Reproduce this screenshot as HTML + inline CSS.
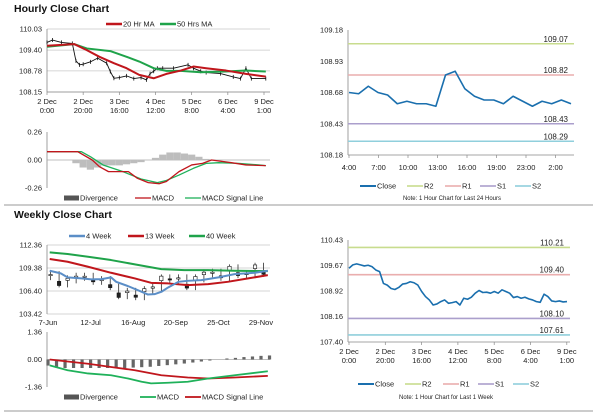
<!DOCTYPE html>
<html><head><meta charset="utf-8">
<style>
body{margin:0;background:#fff;}
svg{display:block;font-family:"Liberation Sans",sans-serif;}
.t{font-size:7.5px;fill:#222;}
.ttl{font-size:10.5px;font-weight:bold;fill:#111;}
</style></head>
<body>
<svg id="c" width="600" height="413" viewBox="0 0 600 413"></svg>
<script>
// ---------- DATA ----------
const hPriceHours=[0,3,8,14,16,18,20,24,28,33,35,37,40,44,48,52,55,57,59,61,64,70,78,81,85,88,96,103,107,110,113,121];
const hPriceVals=[109.63,109.70,109.63,109.60,109.08,108.96,108.98,109.05,109.16,109.01,108.76,108.56,108.58,108.63,108.55,108.58,108.51,108.70,108.77,108.86,108.86,108.86,108.96,108.86,108.77,108.73,108.70,108.60,108.55,108.86,108.55,108.55];
const hMa20Hours=[0,15,22,29,37,44,51,59,66,74,81,88,99,110,121];
const hMa20=[109.53,109.58,109.40,109.20,109.01,108.86,108.66,108.56,108.69,108.79,108.91,108.86,108.79,108.69,108.61];
const hMa50Hours=[0,15,22,35,44,51,59,66,74,85,99,110,121];
const hMa50=[109.50,109.58,109.45,109.37,109.20,109.06,108.86,108.78,108.78,108.74,108.76,108.79,108.76];
const hTicks=[110.03,109.40,108.78,108.15];
const hXLabels=[["2 Dec","0:00"],["2 Dec","20:00"],["3 Dec","16:00"],["4 Dec","12:00"],["5 Dec","8:00"],["6 Dec","4:00"],["9 Dec","1:00"]];
const hMacdHours=[0,17,25,29,34,45,50,56,62,66,73,80,86,91,102,110,121];
const hMacd=[0.077,0.077,0,-0.062,-0.108,-0.108,-0.17,-0.21,-0.22,-0.20,-0.108,-0.046,-0.031,0,-0.025,-0.046,-0.052];
const hSigHours=[0,19,24,31,42,52,61,66,73,81,88,95,106,117,121];
const hSig=[0.077,0.077,0.031,-0.046,-0.108,-0.176,-0.21,-0.19,-0.14,-0.077,-0.031,-0.025,-0.031,-0.046,-0.052];
const hDivHours=[0,4,8,12,16,20,24,28,32,36,40,44,48,52,56,60,64,68,72,76,80,84,88,92,96,100,104,108,112,116,120];
const hDiv=[0,0,0,0,-0.03,-0.07,-0.09,-0.07,-0.05,-0.05,-0.05,-0.04,-0.03,-0.02,0,0.02,0.05,0.07,0.07,0.06,0.05,0.03,0.01,0,0,0,0,0,0,0,0];
const hMacdTicks=[0.26,0.00,-0.26];

const dClose=[108.68,108.67,108.73,108.68,108.66,108.59,108.61,108.59,108.59,108.57,108.82,108.85,108.71,108.65,108.62,108.62,108.59,108.65,108.61,108.57,108.61,108.59,108.62,108.59];
const dXLabels=["4:00","7:00","10:00","13:00","16:00","19:00","23:00","2:00"];
const dTicks=[109.18,108.93,108.68,108.43,108.18];
const dLevels=[109.07,108.82,108.43,108.29];

const wkClose=[109.59,109.69,109.72,109.69,109.66,109.68,109.64,109.54,109.49,109.14,109.09,108.99,108.96,109.02,109.12,109.14,109.19,109.16,109.09,108.90,108.75,108.65,108.50,108.53,108.60,108.65,108.55,108.57,108.60,108.50,108.70,108.67,108.73,108.85,108.93,108.87,108.88,108.85,108.90,108.85,108.95,108.90,108.85,108.72,108.75,108.70,108.73,108.68,108.65,108.60,108.58,108.82,108.75,108.62,108.60,108.62,108.59,108.60];
const wkTicks=[110.43,109.67,108.92,108.16,107.40];
const wkLevels=[110.21,109.40,108.10,107.61];

const wCandles=[108.33,108.46,107.38,107.90,108.24,108.24,107.72,107.81,107.03,105.86,106.29,105.73,106.51,106.85,108.03,107.90,108.03,107.03,108.03,108.68,108.76,108.24,109.33,108.59,108.59,109.54,108.76];
const w4Weeks=[0.2,1.5,2.3,3.9,5.1,6.3,7.4,8,9.4,11,11.7,12.5,13.3,14.1,15.3,16.4,18,20,21.9,24.3,25.8];
const w4=[109.02,108.68,108.16,108.03,107.90,107.94,108.16,107.59,107.03,106.29,105.95,105.99,106.29,106.86,107.59,107.72,107.81,108.16,108.59,108.76,109.02];
const w13Weeks=[0.2,2.3,4.7,7.4,10.2,12.1,14.1,16.4,18.8,21.1,23.5,25.8];
const w13=[110.54,110.19,109.54,108.76,108.03,107.46,107.38,107.16,107.29,107.59,108.03,108.46];
const w40Weeks=[0.2,2.3,4.7,7.4,10.2,13.3,16,18.8,21.9,25.8];
const w40=[111.41,111.19,110.84,110.41,109.85,109.24,109.11,109.11,109.02,108.98];
const wTicks=[112.36,109.38,106.40,103.42];
const wXLabels=["7-Jun","12-Jul","16-Aug","20-Sep","25-Oct","29-Nov"];
const wMacdWeeks=[0.2,2.3,4.7,7.4,9.4,11,12.1,14.1,16.4,18.8,21.9,25.8];
const wMacd=[-0.29,-0.53,-0.69,-0.78,-0.94,-1.10,-1.18,-1.15,-1.10,-0.94,-0.78,-0.58];
const wSigWeeks=[0.2,2.3,4.7,7.4,10.2,13.3,16.4,18.8,21.9,25.8];
const wSig=[0,-0.10,-0.21,-0.37,-0.53,-0.78,-0.89,-0.94,-0.89,-0.81];
const wDiv=[-0.3,-0.4,-0.42,-0.42,-0.42,-0.42,-0.42,-0.42,-0.42,-0.42,-0.4,-0.38,-0.36,-0.32,-0.28,-0.24,-0.2,-0.15,-0.1,-0.05,0.0,0.05,0.08,0.12,0.15,0.18,0.2];
const wMacdTicks=[1.36,0.00,-1.36];

// ---------- HELPERS ----------
const S=document.getElementById('c');
const NS='http://www.w3.org/2000/svg';
function mk(tag,attrs,parent){const e=document.createElementNS(NS,tag);for(const k in attrs)e.setAttribute(k,attrs[k]);(parent||S).appendChild(e);return e;}
function txt(x,y,s,anchor,cls){const e=mk('text',{x:x,y:y,'text-anchor':anchor||'start',class:cls||'t'});e.textContent=s;return e;}
function lin(a,b,c,d){return v=>c+(v-a)*(d-c)/(b-a);}
function poly(xs,ys,fx,fy,color,w,name){
  const p=mk('polyline',{points:xs.map((x,i)=>fx(x)+','+fy(ys[i])).join(' '),fill:'none',stroke:color,'stroke-width':w,'stroke-linejoin':'round'});
  
  
  return p;
}
function legLine(x,y,color,label,w){
  const l=mk('line',{x1:x,y1:y,x2:x+16,y2:y,stroke:color,'stroke-width':w||2.5});
  
  
  const t=txt(x+17,y+2.5,label);
  
  
}
function legBox(x,y,label){
  const r=mk('rect',{x:x,y:y-2.5,width:15,height:5,fill:'#555'});
  
  
  const t=txt(x+16,y+2.5,label);
  
  
}
function yAxis(x0,x1,ticks,fy,grid,name){
  ticks.forEach(v=>{
    if(grid){const g=mk('line',{x1:x0,x2:x1,y1:fy(v),y2:fy(v),stroke:'#c8c8c8','stroke-width':0.7});
      }
    const t=txt(x0-5,fy(v)+2.5,v.toFixed(2),'end');
    
    
  });
  const a=mk('line',{x1:x0,x2:x0,y1:fy(ticks[0]),y2:fy(ticks[ticks.length-1]),stroke:'#888','stroke-width':0.8});
  
}

// separators
[205,411].forEach(y=>{const l=mk('line',{x1:4,x2:593,y1:y,y2:y,stroke:'#999','stroke-width':1});
  });

// ---------- HOURLY CLOSE (top-left) ----------
(function(){
  const t=txt(14,12,'Hourly Close Chart','start','ttl');
  
  const fx=lin(0,120,47,264), fy=lin(110.03,108.15,29,92);
  yAxis(47,270,hTicks,fy,true,'hourly-price');
  const bl=mk('line',{x1:47,x2:270,y1:92,y2:92,stroke:'#888','stroke-width':0.8});
  
  hXLabels.forEach((l,i)=>{const x=fx(i*20);
    mk('line',{x1:x,x2:x,y1:92,y2:95,stroke:'#888','stroke-width':0.7});
    const a=txt(x,104,l[0],'middle');
    const b=txt(x,113,l[1],'middle');});
  poly(hPriceHours,hPriceVals,fx,fy,'#111',0.9,'hourly-price-candles');
  hPriceHours.forEach((h,i)=>{const c=mk('line',{x1:fx(h),x2:fx(h),y1:fy(hPriceVals[i])-2,y2:fy(hPriceVals[i])+2,stroke:'#111','stroke-width':0.8});
    });
  poly(hMa50Hours,hMa50,fx,fy,'#1fa34a',2,'hourly-50hr-ma-line');
  poly(hMa20Hours,hMa20,fx,fy,'#c0161c',2,'hourly-20hr-ma-line');
  legLine(106,24,'#c0161c','20 Hr MA');
  legLine(160,24,'#1fa34a','50 Hrs MA');

  // MACD
  const my=lin(0.26,-0.26,132,188);
  yAxis(47,270,hMacdTicks,my,false,'hourly-macd');
  const z=mk('line',{x1:47,x2:270,y1:my(0),y2:my(0),stroke:'#aaa','stroke-width':0.7});
  
  hDivHours.forEach((h,i)=>{const v=hDiv[i];if(!v)return;
    const r=mk('rect',{x:fx(h)-3.6,y:Math.min(my(0),my(v)),width:7.2,height:Math.abs(my(v)-my(0)),fill:'#bdbdbd'});
    });
  poly(hSigHours,hSig,fx,my,'#1fb15a',1.3,'hourly-macd-signal-line');
  poly(hMacdHours,hMacd,fx,my,'#c0161c',1.3,'hourly-macd-line');
  legBox(64,198,'Divergence');
  legLine(135,198,'#c0161c','MACD',1.3);
  legLine(185,198,'#1fb15a','MACD Signal Line',1.3);
})();

// ---------- DAILY 24H (top-right) ----------
function levelChart(x0,x1,yTop,yBot,ticks,levels,closeVals,nameP){
  const fy=lin(ticks[0],ticks[ticks.length-1],yTop,yBot);
  const fx=lin(0,closeVals.length-1,x0+1,x1-3);
  yAxis(x0,x1,ticks,fy,false,nameP);
  const b=mk('line',{x1:x0,x2:x1,y1:yBot,y2:yBot,stroke:'#888','stroke-width':0.8});
  
  const cols=['#c8dc8e','#eaaeae','#ab9fcc','#90cfdc'], nm=['r2','r1','s1','s2'];
  levels.forEach((v,i)=>{const l=mk('line',{x1:x0,x2:x1,y1:fy(v),y2:fy(v),stroke:cols[i],'stroke-width':1.6});
    
    const t=txt(x1-6,fy(v)-2,v.toFixed(2),'end');t.style.fontSize='8px';
    });
  poly(closeVals.map((_,i)=>i),closeVals,fx,fy,'#1a6fae',1.6,nameP+'-close-line');
  return {fx,fy};
}
(function(){
  levelChart(348,574,30,155,dTicks,dLevels,dClose,'daily');
  dXLabels.forEach((l,i)=>{const x=349+i*29.5;
    mk('line',{x1:x,x2:x,y1:155,y2:158,stroke:'#888','stroke-width':0.7});
    const t=txt(x,170,l,'middle');});
  legLine(360,186,'#1a6fae','Close',2);legLine(407,186,'#c8dc8e','R2',1.6);legLine(445,186,'#eaaeae','R1',1.6);
  legLine(480,186,'#ab9fcc','S1',1.6);legLine(515,186,'#90cfdc','S2',1.6);
  const n=txt(452,200,'Note: 1 Hour Chart for Last 24 Hours','middle');n.style.fontSize='6px';
  
})();

// ---------- WEEK HOURLY (bottom-right) ----------
(function(){
  levelChart(348,570,240,342,wkTicks,wkLevels,wkClose,'week-hourly');
  hXLabels.forEach((l,i)=>{const x=349+i*36.3;
    mk('line',{x1:x,x2:x,y1:342,y2:345,stroke:'#888','stroke-width':0.7});
    const a=txt(x,354,l[0],'middle');
    const b=txt(x,363,l[1],'middle');});
  legLine(358,384,'#1a6fae','Close',2);legLine(405,384,'#c8dc8e','R2',1.6);legLine(443,384,'#eaaeae','R1',1.6);
  legLine(478,384,'#ab9fcc','S1',1.6);legLine(513,384,'#90cfdc','S2',1.6);
  const n=txt(446,399,'Note: 1 Hour Chart for Last 1 Week','middle');n.style.fontSize='6px';
  
})();

// ---------- WEEKLY (bottom-left) ----------
(function(){
  const t=txt(14,218,'Weekly Close Chart','start','ttl');
  
  const fx=lin(0,25,48,261), fy=lin(112.36,103.42,245,314);
  yAxis(47,270,wTicks,fy,true,'weekly-price');
  wXLabels.forEach((l,i)=>{const x=fx(i*5);
    const a=txt(x,325,l,'middle');});
  wCandles.forEach((v,i)=>{if(i===0)return;const o=wCandles[i-1],x=fx(i-0.7);
    const w=mk('line',{x1:x,x2:x,y1:fy(Math.max(o,v))-4,y2:fy(Math.min(o,v))+4,stroke:'#111','stroke-width':0.7});
    
    const h=Math.max(1.2,Math.abs(fy(o)-fy(v))*0.5);
    const r=mk('rect',{x:x-1.7,y:fy(v)-h/2,width:3.4,height:h,fill:v<o?'#222':'#fff',stroke:'#111','stroke-width':0.6});
    });
  poly(w40Weeks,w40,fx,fy,'#1fa34a',2,'weekly-40-week-line');
  poly(w13Weeks,w13,fx,fy,'#c0161c',2,'weekly-13-week-line');
  poly(w4Weeks,w4,fx,fy,'#5b8ec7',2,'weekly-4-week-line');
  legLine(69,236,'#5b8ec7','4 Week');legLine(128,236,'#c0161c','13 Week');legLine(189,236,'#1fa34a','40 Week');

  const my=lin(1.36,-1.36,332,387);
  yAxis(47,270,wMacdTicks,my,false,'weekly-macd');
  const z=mk('line',{x1:47,x2:270,y1:my(0),y2:my(0),stroke:'#aaa','stroke-width':0.7});
  
  wDiv.forEach((v,i)=>{if(!v)return;
    const r=mk('rect',{x:fx(i)-1.6,y:Math.min(my(0),my(v)),width:3.2,height:Math.abs(my(v)-my(0)),fill:'#666'});
    });
  poly(wSigWeeks,wSig,fx,my,'#c0161c',1.8,'weekly-macd-signal-line');
  poly(wMacdWeeks,wMacd,fx,my,'#1fb15a',1.8,'weekly-macd-line');
  legBox(64,397,'Divergence');
  legLine(140,397,'#1fb15a','MACD',1.8);
  legLine(185,397,'#c0161c','MACD Signal Line',1.8);
})();
</script>
</body></html>
